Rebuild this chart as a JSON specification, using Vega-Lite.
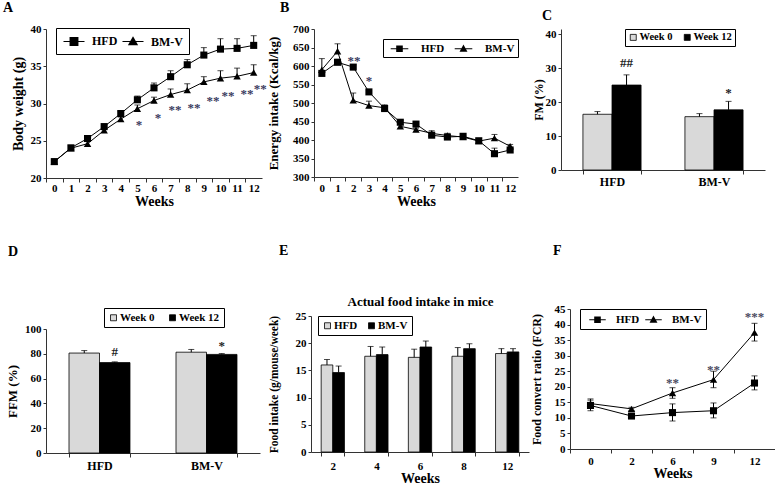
{
  "$schema": "https://vega.github.io/schema/vega-lite/v6.json",
  "background": "white",
  "padding": {"left": 3, "top": 1, "right": 0, "bottom": 0},
  "columns": 3,
  "align": "none",
  "bounds": "full",
  "spacing": {"row": 36, "column": 0},
  "resolve": {"scale": {"fill": "independent", "shape": "independent", "xOffset": "independent"}, "legend": {"fill": "independent", "shape": "independent"}},
  "datasets": {
    "bw": [
      {"week": 0, "group": "HFD", "mean": 22.2, "hi": 22.5},
      {"week": 1, "group": "HFD", "mean": 24.05, "hi": 24.35},
      {"week": 2, "group": "HFD", "mean": 25.3, "hi": 25.6},
      {"week": 3, "group": "HFD", "mean": 26.9, "hi": 27.2},
      {"week": 4, "group": "HFD", "mean": 28.65, "hi": 28.95},
      {"week": 5, "group": "HFD", "mean": 30.5, "hi": 31.0},
      {"week": 6, "group": "HFD", "mean": 32.1, "hi": 32.75},
      {"week": 7, "group": "HFD", "mean": 33.6, "hi": 34.4},
      {"week": 8, "group": "HFD", "mean": 35.2, "hi": 35.9},
      {"week": 9, "group": "HFD", "mean": 36.5, "hi": 37.5},
      {"week": 10, "group": "HFD", "mean": 37.3, "hi": 38.7},
      {"week": 11, "group": "HFD", "mean": 37.4, "hi": 38.7},
      {"week": 12, "group": "HFD", "mean": 37.8, "hi": 39.1},
      {"week": 0, "group": "BM-V", "mean": 22.2, "hi": 22.5},
      {"week": 1, "group": "BM-V", "mean": 24.0, "hi": 24.3},
      {"week": 2, "group": "BM-V", "mean": 24.6, "hi": 24.9},
      {"week": 3, "group": "BM-V", "mean": 26.4, "hi": 26.7},
      {"week": 4, "group": "BM-V", "mean": 27.9, "hi": 28.2},
      {"week": 5, "group": "BM-V", "mean": 29.3, "hi": 29.8},
      {"week": 6, "group": "BM-V", "mean": 30.4, "hi": 30.85},
      {"week": 7, "group": "BM-V", "mean": 31.2, "hi": 31.95},
      {"week": 8, "group": "BM-V", "mean": 31.8, "hi": 32.65},
      {"week": 9, "group": "BM-V", "mean": 32.9, "hi": 33.6},
      {"week": 10, "group": "BM-V", "mean": 33.4, "hi": 34.4},
      {"week": 11, "group": "BM-V", "mean": 33.65, "hi": 34.75},
      {"week": 12, "group": "BM-V", "mean": 34.15, "hi": 35.2}
    ],
    "bwStars": [
      {"week": 5.1, "y": 27.7, "t": "*"},
      {"week": 6.24, "y": 28.6, "t": "*"},
      {"week": 7.26, "y": 29.7, "t": "**"},
      {"week": 8.4, "y": 29.9, "t": "**"},
      {"week": 9.55, "y": 30.85, "t": "**"},
      {"week": 10.45, "y": 31.6, "t": "**"},
      {"week": 11.6, "y": 31.75, "t": "**"},
      {"week": 12.4, "y": 32.5, "t": "**"}
    ],
    "energy": [
      {"week": 0, "group": "HFD", "mean": 580, "hi": 585},
      {"week": 1, "group": "HFD", "mean": 610, "hi": 618},
      {"week": 2, "group": "HFD", "mean": 597, "hi": 603},
      {"week": 3, "group": "HFD", "mean": 530, "hi": 535},
      {"week": 4, "group": "HFD", "mean": 485, "hi": 490},
      {"week": 5, "group": "HFD", "mean": 448, "hi": 453},
      {"week": 6, "group": "HFD", "mean": 443, "hi": 447},
      {"week": 7, "group": "HFD", "mean": 413, "hi": 418},
      {"week": 8, "group": "HFD", "mean": 408, "hi": 413},
      {"week": 9, "group": "HFD", "mean": 410, "hi": 416},
      {"week": 10, "group": "HFD", "mean": 398, "hi": 402},
      {"week": 11, "group": "HFD", "mean": 363, "hi": 378},
      {"week": 12, "group": "HFD", "mean": 373, "hi": 376},
      {"week": 0, "group": "BM-V", "mean": 590, "hi": 620},
      {"week": 1, "group": "BM-V", "mean": 640, "hi": 660},
      {"week": 2, "group": "BM-V", "mean": 507, "hi": 527},
      {"week": 3, "group": "BM-V", "mean": 493, "hi": 505},
      {"week": 4, "group": "BM-V", "mean": 487, "hi": 495},
      {"week": 5, "group": "BM-V", "mean": 437, "hi": 442},
      {"week": 6, "group": "BM-V", "mean": 428, "hi": 432},
      {"week": 7, "group": "BM-V", "mean": 418, "hi": 425},
      {"week": 8, "group": "BM-V", "mean": 412, "hi": 418},
      {"week": 9, "group": "BM-V", "mean": 408, "hi": 412},
      {"week": 10, "group": "BM-V", "mean": 397, "hi": 403},
      {"week": 11, "group": "BM-V", "mean": 405, "hi": 415},
      {"week": 12, "group": "BM-V", "mean": 383, "hi": 388}
    ],
    "energyStars": [
      {"week": 2.05, "y": 625, "t": "**"},
      {"week": 3.0, "y": 571, "t": "*"}
    ],
    "fm": [
      {"group": "HFD", "time": "Week 0", "mean": 16.4, "hi": 17.2},
      {"group": "HFD", "time": "Week 12", "mean": 25.0, "hi": 28.0},
      {"group": "BM-V", "time": "Week 0", "mean": 15.7, "hi": 16.6},
      {"group": "BM-V", "time": "Week 12", "mean": 17.7, "hi": 20.2}
    ],
    "fmMarks": [
      {"group": "HFD", "time": "Week 12", "y": 31.4, "t": "##"},
      {"group": "BM-V", "time": "Week 12", "y": 22.7, "t": "*"}
    ],
    "ffm": [
      {"group": "HFD", "time": "Week 0", "mean": 80.6, "hi": 82.6},
      {"group": "HFD", "time": "Week 12", "mean": 72.9, "hi": 73.5},
      {"group": "BM-V", "time": "Week 0", "mean": 81.3, "hi": 83.5},
      {"group": "BM-V", "time": "Week 12", "mean": 79.5, "hi": 80.2}
    ],
    "ffmMarks": [
      {"group": "HFD", "time": "Week 12", "y": 81.8, "t": "#"},
      {"group": "BM-V", "time": "Week 12", "y": 86.3, "t": "*"}
    ],
    "food": [
      {"week": "2", "group": "HFD", "mean": 16.0, "hi": 17.0},
      {"week": "2", "group": "BM-V", "mean": 14.6, "hi": 15.8},
      {"week": "4", "group": "HFD", "mean": 17.6, "hi": 19.4},
      {"week": "4", "group": "BM-V", "mean": 17.9, "hi": 19.3},
      {"week": "6", "group": "HFD", "mean": 17.4, "hi": 18.9},
      {"week": "6", "group": "BM-V", "mean": 19.3, "hi": 20.4},
      {"week": "8", "group": "HFD", "mean": 17.6, "hi": 19.2},
      {"week": "8", "group": "BM-V", "mean": 19.0, "hi": 19.9},
      {"week": "12", "group": "HFD", "mean": 18.1, "hi": 19.0},
      {"week": "12", "group": "BM-V", "mean": 18.4, "hi": 19.0}
    ],
    "fcr": [
      {"week": "0", "group": "HFD", "mean": 14.0, "lo": 12.3, "hi": 15.7},
      {"week": "2", "group": "HFD", "mean": 10.6, "lo": 10.1, "hi": 11.1},
      {"week": "6", "group": "HFD", "mean": 11.7, "lo": 9.0, "hi": 14.5},
      {"week": "9", "group": "HFD", "mean": 12.3, "lo": 10.0, "hi": 14.8},
      {"week": "12", "group": "HFD", "mean": 21.2, "lo": 19.0, "hi": 23.5},
      {"week": "0", "group": "BM-V", "mean": 14.6, "lo": 13.2, "hi": 16.1},
      {"week": "2", "group": "BM-V", "mean": 12.9, "lo": 12.4, "hi": 13.4},
      {"week": "6", "group": "BM-V", "mean": 18.0, "lo": 16.3, "hi": 19.7},
      {"week": "9", "group": "BM-V", "mean": 22.3, "lo": 19.7, "hi": 25.0},
      {"week": "12", "group": "BM-V", "mean": 37.4, "lo": 34.7, "hi": 40.4}
    ],
    "fcrStars": [
      {"week": "6", "y": 22.5, "t": "**"},
      {"week": "9", "y": 26.8, "t": "**"},
      {"week": "12", "y": 43.6, "t": "***"}
    ]
  },
  "concat": [
    {
      "width": 216, "height": 149,
      "title": {"text": "A", "dx": -43, "offset": 8},
      "data": {"name": "bw"},
      "encoding": {
        "x": {"field": "week", "type": "quantitative", "scale": {"domain": [-0.5, 12.5], "nice": false, "zero": false},
          "axis": {"title": "Weeks", "values": [-0.5, 0.5, 1.5, 2.5, 3.5, 4.5, 5.5, 6.5, 7.5, 8.5, 9.5, 10.5, 11.5], "labelExpr": "format(datum.value + 0.5, 'd')", "labelOffset": 8.3, "labelOverlap": false, "labelFlush": false, "labelBound": false, "labelPadding": 0, "titleFontSize": 14, "titlePadding": 1}},
        "y": {"field": "mean", "type": "quantitative", "scale": {"domain": [20, 40], "nice": false, "zero": false}, "axis": {"title": "Body weight (g)", "values": [20, 25, 30, 35, 40], "titleFontSize": 14, "titlePadding": 5}}
      },
      "layer": [
        {"mark": {"type": "rule", "color": "#000", "strokeWidth": 1}, "encoding": {"y2": {"field": "hi"}}},
        {"mark": {"type": "tick", "orient": "horizontal", "size": 6, "thickness": 1, "color": "#000"},
          "encoding": {"y": {"field": "hi", "type": "quantitative", "scale": {"domain": [20, 40], "nice": false, "zero": false}, "axis": {"title": "Body weight (g)", "values": [20, 25, 30, 35, 40], "titleFontSize": 14, "titlePadding": 5}}}},
        {"mark": {"type": "line", "color": "#000", "strokeWidth": 1}, "encoding": {"detail": {"field": "group"}}},
        {"transform": [{"filter": "datum.group === 'HFD'"}], "mark": {"type": "point", "shape": "square", "filled": true, "opacity": 1, "color": "#000", "size": 50}, "encoding": {}},
        {"transform": [{"filter": "datum.group === 'BM-V'"}], "mark": {"type": "point", "shape": "triangle-up", "filled": true, "opacity": 1, "color": "#000", "size": 55}, "encoding": {}},
        {"mark": {"type": "point", "filled": false, "opacity": 0, "color": "#000", "strokeWidth": 1.1},
          "encoding": {"shape": {"field": "group", "type": "nominal", "scale": {"domain": ["HFD", "BM-V"], "range": [
              "M-1.75,0L1.75,0M-0.65,-0.65H0.65V0.65H-0.65ZM-0.65,-0.5H0.65M-0.65,-0.35H0.65M-0.65,-0.2H0.65M-0.65,-0.05H0.65M-0.65,0.1H0.65M-0.65,0.25H0.65M-0.65,0.4H0.65M-0.65,0.55H0.65",
              "M-1.75,0L1.75,0M0,-0.7L0.7,0.55L-0.7,0.55ZM-0.112,-0.5H0.112M-0.196,-0.35H0.196M-0.28,-0.2H0.28M-0.364,-0.05H0.364M-0.448,0.1H0.448M-0.532,0.25H0.532M-0.616,0.4H0.616"]},
            "legend": {"title": null, "orient": "none", "legendX": 10, "legendY": -1, "direction": "horizontal", "padding": 6, "symbolSize": 144, "symbolOffset": 5, "labelOffset": 11, "columnPadding": 2, "labelFontSize": 12, "symbolOpacity": 1, "symbolStrokeColor": "#000", "symbolStrokeWidth": 1.1, "strokeColor": "#000", "fillColor": "#fff"}}}},
        {"data": {"name": "bwStars"},
          "mark": {"type": "text", "font": "Liberation Serif", "fontWeight": "bold", "fontSize": 13, "color": "#3a3a5e", "baseline": "alphabetic", "dy": 8},
          "encoding": {"y": {"field": "y", "type": "quantitative", "scale": {"domain": [20, 40], "nice": false, "zero": false}, "axis": {"title": "Body weight (g)", "values": [20, 25, 30, 35, 40], "titleFontSize": 14, "titlePadding": 5}}, "text": {"field": "t"}}}
      ]
    },
    {
      "width": 204, "height": 148,
      "title": {"text": "B", "dx": -34, "offset": 8},
      "data": {"name": "energy"},
      "encoding": {
        "x": {"field": "week", "type": "quantitative", "scale": {"domain": [-0.5, 12.5], "nice": false, "zero": false},
          "axis": {"title": "Weeks", "values": [-0.5, 0.5, 1.5, 2.5, 3.5, 4.5, 5.5, 6.5, 7.5, 8.5, 9.5, 10.5, 11.5], "labelExpr": "format(datum.value + 0.5, 'd')", "labelOffset": 7.85, "labelOverlap": false, "labelFlush": false, "labelBound": false, "labelPadding": 1, "titleFontSize": 14, "titlePadding": 1}},
        "y": {"field": "mean", "type": "quantitative", "scale": {"domain": [300, 700], "nice": false, "zero": false}, "axis": {"title": "Energy intake (Kcal/kg)", "values": [300, 350, 400, 450, 500, 550, 600, 650, 700], "titlePadding": 12}}
      },
      "layer": [
        {"mark": {"type": "rule", "color": "#000", "strokeWidth": 1}, "encoding": {"y2": {"field": "hi"}}},
        {"mark": {"type": "tick", "orient": "horizontal", "size": 6, "thickness": 1, "color": "#000"},
          "encoding": {"y": {"field": "hi", "type": "quantitative", "scale": {"domain": [300, 700], "nice": false, "zero": false}, "axis": {"title": "Energy intake (Kcal/kg)", "values": [300, 350, 400, 450, 500, 550, 600, 650, 700], "titlePadding": 12}}}},
        {"mark": {"type": "line", "color": "#000", "strokeWidth": 1}, "encoding": {"detail": {"field": "group"}}},
        {"transform": [{"filter": "datum.group === 'HFD'"}], "mark": {"type": "point", "shape": "square", "filled": true, "opacity": 1, "color": "#000", "size": 50}, "encoding": {}},
        {"transform": [{"filter": "datum.group === 'BM-V'"}], "mark": {"type": "point", "shape": "triangle-up", "filled": true, "opacity": 1, "color": "#000", "size": 55}, "encoding": {}},
        {"mark": {"type": "point", "filled": false, "opacity": 0, "color": "#000", "strokeWidth": 1.1},
          "encoding": {"shape": {"field": "group", "type": "nominal", "scale": {"domain": ["HFD", "BM-V"], "range": [
              "M-1.6,0L1.6,0M-0.5,-0.5H0.5V0.5H-0.5ZM-0.5,-0.35H0.5M-0.5,-0.2H0.5M-0.5,-0.05H0.5M-0.5,0.1H0.5M-0.5,0.25H0.5M-0.5,0.4H0.5",
              "M-1.6,0L1.6,0M0,-0.55L0.55,0.45L-0.55,0.45ZM-0.0825,-0.4H0.0825M-0.165,-0.25H0.165M-0.2475,-0.1H0.2475M-0.33,0.05H0.33M-0.4125,0.2H0.4125M-0.495,0.35H0.495"]},
            "legend": {"title": null, "orient": "none", "legendX": 69, "legendY": 10, "direction": "horizontal", "padding": 3, "symbolSize": 121, "symbolOffset": 7, "labelOffset": 15, "columnPadding": 5, "labelFontSize": 11, "symbolOpacity": 1, "symbolStrokeColor": "#000", "symbolStrokeWidth": 1.1, "strokeColor": "#000", "fillColor": "#fff"}}}},
        {"data": {"name": "energyStars"},
          "mark": {"type": "text", "font": "Liberation Serif", "fontWeight": "bold", "fontSize": 13, "color": "#3a3a5e", "baseline": "alphabetic", "dy": 8},
          "encoding": {"y": {"field": "y", "type": "quantitative", "scale": {"domain": [300, 700], "nice": false, "zero": false}, "axis": {"title": "Energy intake (Kcal/kg)", "values": [300, 350, 400, 450, 500, 550, 600, 650, 700], "titlePadding": 12}}, "text": {"field": "t"}}}
      ]
    },
    {
      "width": 204, "height": 141,
      "title": {"text": "C", "dx": -19, "offset": 5},
      "data": {"name": "fm"},
      "encoding": {
        "x": {"field": "group", "type": "nominal", "scale": {"type": "band", "domain": ["HFD", "BM-V"], "paddingInner": 0.43, "paddingOuter": 0.215}, "axis": {"title": null, "labelAngle": 0, "tickBand": "extent", "labelFontSize": 12, "labelPadding": 2}},
        "xOffset": {"field": "time", "type": "nominal", "scale": {"domain": ["Week 0", "Week 12"]}},
        "y": {"field": "mean", "type": "quantitative", "scale": {"domain": [0, 41.5], "nice": false}, "axis": {"title": "FM (%)", "values": [0, 10, 20, 30, 40], "titleFontSize": 12, "titlePadding": 0}}
      },
      "layer": [
        {"mark": {"type": "bar", "stroke": "#000", "strokeWidth": 0.8},
          "encoding": {"fill": {"field": "time", "type": "nominal", "scale": {"domain": ["Week 0", "Week 12"], "range": ["#d9d9d9", "#000000"]},
              "legend": {"title": null, "orient": "none", "legendX": 64, "legendY": 0, "direction": "horizontal", "padding": 3, "symbolType": "square", "symbolSize": 36, "symbolStrokeColor": "#000", "symbolStrokeWidth": 0.8, "labelFontSize": 10.5, "labelOffset": 1, "columnPadding": 9, "strokeColor": "#000", "fillColor": "#fff"}}}},
        {"mark": {"type": "rule", "color": "#000", "strokeWidth": 1}, "encoding": {"y2": {"field": "hi"}}},
        {"mark": {"type": "tick", "orient": "horizontal", "size": 6, "thickness": 1, "color": "#000"},
          "encoding": {"y": {"field": "hi", "type": "quantitative", "scale": {"domain": [0, 41.5], "nice": false}, "axis": {"title": "FM (%)", "values": [0, 10, 20, 30, 40], "titleFontSize": 12, "titlePadding": 0}}}},
        {"data": {"name": "fmMarks"},
          "mark": {"type": "text", "font": "Liberation Serif", "fontWeight": "bold", "fontSize": 13, "color": "#222", "baseline": "middle"},
          "encoding": {"y": {"field": "y", "type": "quantitative", "scale": {"domain": [0, 41.5], "nice": false}, "axis": {"title": "FM (%)", "values": [0, 10, 20, 30, 40], "titleFontSize": 12, "titlePadding": 0}}, "text": {"field": "t"}}}
      ]
    },
    {
      "width": 214, "height": 124,
      "title": {"text": "D", "dx": -38, "offset": 49},
      "data": {"name": "ffm"},
      "encoding": {
        "x": {"field": "group", "type": "nominal", "scale": {"type": "band", "domain": ["HFD", "BM-V"], "paddingInner": 0.43, "paddingOuter": 0.215}, "axis": {"title": null, "labelAngle": 0, "tickBand": "extent", "labelFontSize": 12, "labelPadding": 3}},
        "xOffset": {"field": "time", "type": "nominal", "scale": {"domain": ["Week 0", "Week 12"]}},
        "y": {"field": "mean", "type": "quantitative", "scale": {"domain": [0, 100], "nice": false}, "axis": {"title": "FFM (%)", "values": [0, 20, 40, 60, 80, 100], "titlePadding": 5}}
      },
      "layer": [
        {"mark": {"type": "bar", "stroke": "#000", "strokeWidth": 0.8},
          "encoding": {"fill": {"field": "time", "type": "nominal", "scale": {"domain": ["Week 0", "Week 12"], "range": ["#d9d9d9", "#000000"]},
              "legend": {"title": null, "orient": "none", "legendX": 58, "legendY": -21, "direction": "horizontal", "padding": 4, "symbolType": "square", "symbolSize": 36, "symbolStrokeColor": "#000", "symbolStrokeWidth": 0.8, "labelFontSize": 11, "labelOffset": 1, "columnPadding": 12, "strokeColor": "#000", "fillColor": "#fff"}}}},
        {"mark": {"type": "rule", "color": "#000", "strokeWidth": 1}, "encoding": {"y2": {"field": "hi"}}},
        {"mark": {"type": "tick", "orient": "horizontal", "size": 6, "thickness": 1, "color": "#000"},
          "encoding": {"y": {"field": "hi", "type": "quantitative", "scale": {"domain": [0, 100], "nice": false}, "axis": {"title": "FFM (%)", "values": [0, 20, 40, 60, 80, 100], "titlePadding": 5}}}},
        {"data": {"name": "ffmMarks"},
          "mark": {"type": "text", "font": "Liberation Serif", "fontWeight": "bold", "fontSize": 13, "color": "#222", "baseline": "middle"},
          "encoding": {"y": {"field": "y", "type": "quantitative", "scale": {"domain": [0, 100], "nice": false}, "axis": {"title": "FFM (%)", "values": [0, 20, 40, 60, 80, 100], "titlePadding": 5}}, "text": {"field": "t"}}}
      ]
    },
    {
      "width": 218, "height": 136,
      "title": {"text": "E", "dx": -32, "offset": 37},
      "data": {"name": "food"},
      "resolve": {"axis": {"x": "independent"}},
      "encoding": {
        "xOffset": {"field": "group", "type": "nominal", "scale": {"domain": ["HFD", "BM-V"]}},
        "y": {"field": "mean", "type": "quantitative", "scale": {"domain": [0, 25], "nice": false}, "axis": {"title": "Food intake (g/mouse/week)", "values": [0, 5, 10, 15, 20, 25], "titleFontSize": 11.5, "titlePadding": 16}}
      },
      "layer": [
        {"mark": {"type": "bar", "stroke": "#000", "strokeWidth": 0.8},
          "encoding": {
            "x": {"field": "week", "type": "ordinal", "scale": {"type": "band", "domain": ["2", "4", "6", "8", "12"], "paddingInner": 0.466, "paddingOuter": 0.233}, "axis": {"title": "Weeks", "labelAngle": 0, "tickBand": "extent", "labelPadding": 4, "titleFontSize": 14, "titlePadding": 0}},
            "fill": {"field": "group", "type": "nominal", "scale": {"domain": ["HFD", "BM-V"], "range": ["#d9d9d9", "#000000"]},
              "legend": {"title": null, "orient": "none", "legendX": 7, "legendY": 0, "direction": "horizontal", "padding": 4, "symbolType": "square", "symbolSize": 36, "symbolStrokeColor": "#000", "symbolStrokeWidth": 0.8, "labelFontSize": 11, "labelOffset": 1, "columnPadding": 8, "strokeColor": "#000", "fillColor": "#fff"}}}},
        {"mark": {"type": "rule", "color": "#000", "strokeWidth": 1},
          "encoding": {
            "x": {"field": "week", "type": "ordinal", "scale": {"type": "band", "domain": ["2", "4", "6", "8", "12"], "paddingInner": 0.466, "paddingOuter": 0.233}, "axis": {"orient": "top", "title": "Actual food intake in mice", "labels": false, "ticks": false, "domain": false, "titleFontSize": 13, "titlePadding": 8}},
            "y2": {"field": "hi"}}},
        {"mark": {"type": "tick", "orient": "horizontal", "size": 6, "thickness": 1, "color": "#000"},
          "encoding": {
            "x": {"field": "week", "type": "ordinal", "scale": {"type": "band", "domain": ["2", "4", "6", "8", "12"], "paddingInner": 0.466, "paddingOuter": 0.233}, "axis": null},
            "y": {"field": "hi", "type": "quantitative", "scale": {"domain": [0, 25], "nice": false}, "axis": {"title": "Food intake (g/mouse/week)", "values": [0, 5, 10, 15, 20, 25], "titleFontSize": 11.5, "titlePadding": 16}}}}
      ]
    },
    {
      "width": 205, "height": 140,
      "title": {"text": "F", "dx": -17, "offset": 45},
      "data": {"name": "fcr"},
      "encoding": {
        "x": {"field": "week", "type": "ordinal", "scale": {"domain": ["0", "2", "6", "9", "12"]}, "axis": {"title": "Weeks", "labelAngle": 0, "tickOffset": -20.5, "labelOffset": 20.5, "labelPadding": 2, "titleFontSize": 14, "titlePadding": 0}},
        "y": {"field": "mean", "type": "quantitative", "scale": {"domain": [0, 45], "nice": false}, "axis": {"title": "Food convert ratio (FCR)", "values": [0, 5, 10, 15, 20, 25, 30, 35, 40, 45], "titleFontSize": 12, "titlePadding": 11}}
      },
      "layer": [
        {"mark": {"type": "rule", "color": "#000", "strokeWidth": 1},
          "encoding": {"y": {"field": "lo", "type": "quantitative", "scale": {"domain": [0, 45], "nice": false}, "axis": {"title": "Food convert ratio (FCR)", "values": [0, 5, 10, 15, 20, 25, 30, 35, 40, 45], "titleFontSize": 12, "titlePadding": 11}}, "y2": {"field": "hi"}}},
        {"mark": {"type": "tick", "orient": "horizontal", "size": 6, "thickness": 1, "color": "#000"},
          "encoding": {"y": {"field": "hi", "type": "quantitative", "scale": {"domain": [0, 45], "nice": false}, "axis": {"title": "Food convert ratio (FCR)", "values": [0, 5, 10, 15, 20, 25, 30, 35, 40, 45], "titleFontSize": 12, "titlePadding": 11}}}},
        {"mark": {"type": "tick", "orient": "horizontal", "size": 6, "thickness": 1, "color": "#000"},
          "encoding": {"y": {"field": "lo", "type": "quantitative", "scale": {"domain": [0, 45], "nice": false}, "axis": {"title": "Food convert ratio (FCR)", "values": [0, 5, 10, 15, 20, 25, 30, 35, 40, 45], "titleFontSize": 12, "titlePadding": 11}}}},
        {"mark": {"type": "line", "color": "#000", "strokeWidth": 1}, "encoding": {"detail": {"field": "group"}}},
        {"transform": [{"filter": "datum.group === 'HFD'"}], "mark": {"type": "point", "shape": "square", "filled": true, "opacity": 1, "color": "#000", "size": 50}, "encoding": {}},
        {"transform": [{"filter": "datum.group === 'BM-V'"}], "mark": {"type": "point", "shape": "triangle-up", "filled": true, "opacity": 1, "color": "#000", "size": 55}, "encoding": {}},
        {"mark": {"type": "point", "filled": false, "opacity": 0, "color": "#000", "strokeWidth": 1.1},
          "encoding": {"shape": {"field": "group", "type": "nominal", "scale": {"domain": ["HFD", "BM-V"], "range": [
              "M-1.5,0L1.5,0M-0.5,-0.5H0.5V0.5H-0.5ZM-0.5,-0.35H0.5M-0.5,-0.2H0.5M-0.5,-0.05H0.5M-0.5,0.1H0.5M-0.5,0.25H0.5M-0.5,0.4H0.5",
              "M-1.5,0L1.5,0M0,-0.55L0.55,0.45L-0.55,0.45ZM-0.0825,-0.4H0.0825M-0.165,-0.25H0.165M-0.2475,-0.1H0.2475M-0.33,0.05H0.33M-0.4125,0.2H0.4125M-0.495,0.35H0.495"]},
            "legend": {"title": null, "orient": "none", "legendX": 10, "legendY": 0, "direction": "horizontal", "padding": 4, "symbolSize": 121, "symbolOffset": 7, "labelOffset": 12, "columnPadding": 0, "labelFontSize": 11, "symbolOpacity": 1, "symbolStrokeColor": "#000", "symbolStrokeWidth": 1.1, "strokeColor": "#000", "fillColor": "#fff"}}}},
        {"data": {"name": "fcrStars"},
          "mark": {"type": "text", "font": "Liberation Serif", "fontWeight": "bold", "fontSize": 13, "color": "#4a4a5e", "baseline": "alphabetic", "dy": 8},
          "encoding": {"y": {"field": "y", "type": "quantitative", "scale": {"domain": [0, 45], "nice": false}, "axis": {"title": "Food convert ratio (FCR)", "values": [0, 5, 10, 15, 20, 25, 30, 35, 40, 45], "titleFontSize": 12, "titlePadding": 11}}, "text": {"field": "t"}}}
      ]
    }
  ],
  "config": {
    "font": "Liberation Serif",
    "view": {"stroke": null},
    "axis": {"labelFont": "Liberation Serif", "labelFontWeight": "bold", "labelFontSize": 11, "labelColor": "#000", "titleFont": "Liberation Serif", "titleFontWeight": "bold", "titleFontSize": 13, "titleColor": "#000", "domainColor": "#333", "tickColor": "#333", "grid": false, "tickSize": 4, "labelPadding": 3},
    "axisY": {"tickSize": 3, "labelPadding": 2},
    "legend": {"labelFont": "Liberation Serif", "labelFontWeight": "bold", "labelColor": "#000"},
    "title": {"font": "Liberation Serif", "fontSize": 14, "fontWeight": "bold", "anchor": "start", "frame": "group", "color": "#000"}
  }
}
